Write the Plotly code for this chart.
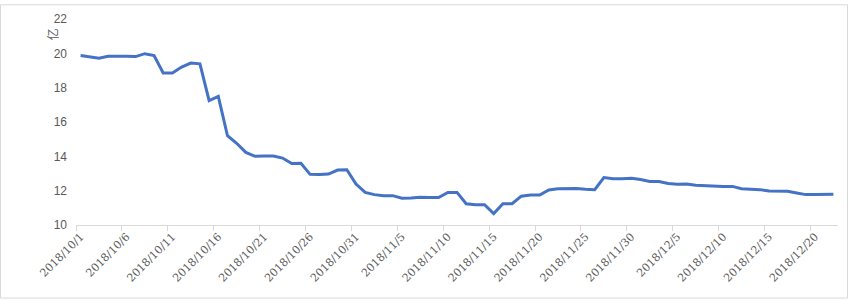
import datetime as dt
import plotly.graph_objects as go

start = dt.date(2018, 10, 1)
values = [
    19.87, 19.79, 19.71, 19.83, 19.85, 19.83, 19.81, 19.98, 19.87, 18.86,
    18.86, 19.20, 19.43, 19.39, 17.24, 17.49, 15.20, 14.76, 14.23, 14.00,
    14.02, 14.02, 13.90, 13.58, 13.60, 12.95, 12.94, 12.97, 13.20, 13.22,
    12.38, 11.90, 11.77, 11.71, 11.71, 11.56, 11.57, 11.62, 11.60, 11.60,
    11.90, 11.90, 11.24, 11.18, 11.18, 10.67, 11.24, 11.24, 11.68, 11.75,
    11.75, 12.04, 12.11, 12.13, 12.13, 12.08, 12.06, 12.76, 12.69, 12.69,
    12.72, 12.65, 12.53, 12.53, 12.42, 12.38, 12.39, 12.32, 12.29, 12.29,
    12.25, 12.25, 12.11, 12.08, 12.06, 11.98, 11.96, 11.96, 11.87, 11.77,
    11.77, 11.79, 11.79,
]
dates = [start + dt.timedelta(days=i) for i in range(len(values))]
categories = [f"{d.year}/{d.month}/{d.day}" for d in dates]
y_ticks = [10, 12, 14, 16, 18, 20, 22]
unit_label = "亿"

W, H = 853, 301
L, R, T, B = 76, 15, 15, 76
pw, ph = W - L - R, H - T - B

fig = go.Figure()
fig.add_trace(go.Scatter(
    x=categories, y=values, mode="lines",
    line=dict(color="#4472C4", width=3),
    hoverinfo="skip",
))

gray = "#595959"
fig.update_layout(
    width=W, height=H,
    margin=dict(l=L, r=R, t=T, b=B),
    paper_bgcolor="white", plot_bgcolor="white",
    showlegend=False,
    font=dict(family="Liberation Sans, DejaVu Sans", color=gray, size=11),
    xaxis=dict(
        type="category",
        range=[-0.5, len(values) - 0.5],
        tickmode="linear", tick0=0, dtick=5,
        tickson="boundaries",
        ticks="outside", ticklen=5, tickcolor="#d9d9d9",
        showline=True, linecolor="#d9d9d9", linewidth=1,
        showgrid=False, zeroline=False,
        tickangle=-45,
        tickfont=dict(family="DejaVu Serif", size=11, color=gray),
    ),
    yaxis=dict(
        range=[10, 22],
        tickmode="array", tickvals=y_ticks,
        showgrid=False, zeroline=False, showline=False,
        ticks="", ticklabelstandoff=8,
        tickfont=dict(size=12, color=gray),
    ),
)

fig.add_annotation(
    text=unit_label, xref="paper", yref="paper",
    x=(42 - L) / pw, y=(H - B - 23) / ph,
    showarrow=False, textangle=-90,
    font=dict(family="Noto Sans CJK SC", size=12, color=gray),
)

# chart border
fig.add_shape(
    type="rect", xref="paper", yref="paper",
    x0=(0.5 - L) / pw, x1=(847.5 - L) / pw,
    y0=(H - B - 299.5) / ph, y1=(H - B - 0.5) / ph,
    line=dict(color="#d9d9d9", width=1),
)

fig.write_html("out.html")
